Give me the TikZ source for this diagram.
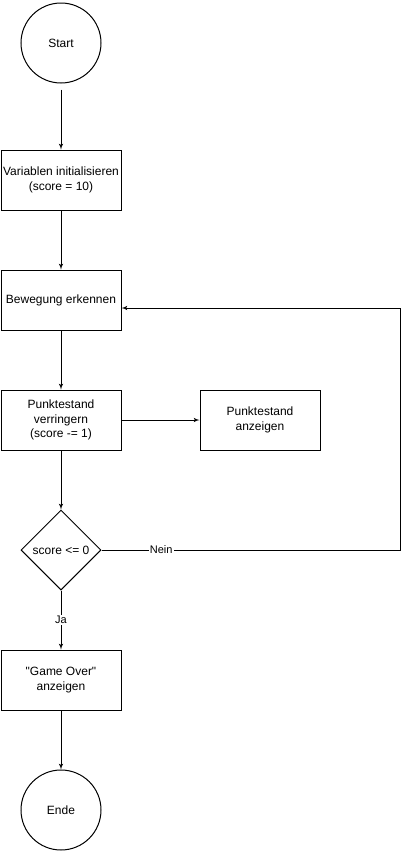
\documentclass[tikz,border=0pt]{standalone}
\usepackage{fontspec}
\newfontfamily\flowfont{Liberation Sans}
\usetikzlibrary{arrows,shapes.geometric}

\begin{document}
\begin{tikzpicture}[x=1pt,y=-1pt]
        \tikzset{terminal/.style = {shape=circle,draw,line width=1pt,minimum size=80pt,inner sep=0pt,font=\flowfont\fontsize{12}{14.5}\selectfont}}
        \tikzset{process/.style = {shape=rectangle,draw,line width=1pt,minimum width=120pt,minimum height=60pt,inner sep=0pt,align=center,font=\flowfont\fontsize{12}{14.5}\selectfont}}
        \tikzset{decision/.style = {shape=diamond,draw,line width=1pt,minimum width=80pt,minimum height=80pt,inner sep=0pt,font=\flowfont\fontsize{12}{14.5}\selectfont}}
        \tikzset{edge/.style = {->,> = latex',line width=1pt}}
        \tikzset{answer/.style = {fill=white,inner sep=1pt,font=\flowfont\fontsize{11}{13}\selectfont}}
        \useasboundingbox (0,0) rectangle (409,852);
        % vertices
        \node[terminal] (start) at  (61,43)   {Start};
        \node[process]  (init)  at  (61,180)  {Variablen initialisieren\\(score = 10)};
        \node[process]  (move)  at  (61,300)  {Bewegung erkennen};
        \node[process]  (dec)   at  (61,420)  {Punktestand\\verringern\\(score -= 1)};
        \node[process]  (show)  at  (260,420) {Punktestand\\anzeigen};
        \node[decision] (check) at  (61,550)  {score <= 0};
        \node[process]  (over)  at  (61,680)  {"Game Over"\\anzeigen};
        \node[terminal] (end)   at  (61,810)  {Ende};
        \coordinate (loop) at (400,550);
        %edges
        \draw[edge] ([yshift=-6pt]start.south) -- (init);
        \draw[edge] (init) -- (move);
        \draw[edge] (move) -- (dec);
        \draw[edge] (dec) -- (show);
        \draw[edge] (dec) -- (check);
        \draw[edge] (check) -- node[answer] {Ja} (over);
        \draw[edge] (over) -- (end);
        \draw[edge] (check.east) -- node[answer,pos=0.2] {Nein} (loop) |- ([yshift=-8pt]move.east);
\end{tikzpicture}
\end{document}
